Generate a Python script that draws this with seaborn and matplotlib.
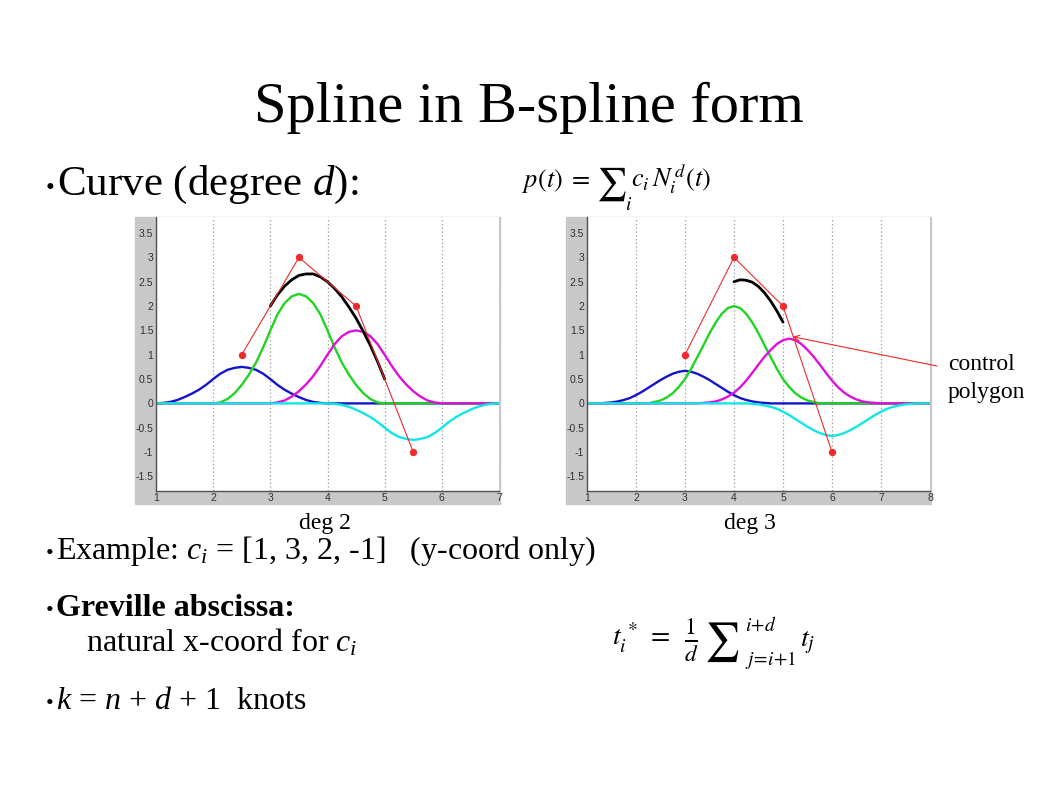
import numpy as np
import pandas as pd
import matplotlib.pyplot as plt
import matplotlib.patches as mpatches
from matplotlib.ticker import FuncFormatter
import seaborn as sns

# Datos (paso 0.125 en t)
x_deg2 = [1.0, 1.125, 1.25, 1.375, 1.5, 1.625, 1.75, 1.875, 2.0, 2.125, 2.25, 2.375, 2.5,
          2.625, 2.75, 2.875, 3.0, 3.125, 3.25, 3.375, 3.5, 3.625, 3.75, 3.875, 4.0,
          4.125, 4.25, 4.375, 4.5, 4.625, 4.75, 4.875, 5.0, 5.125, 5.25, 5.375, 5.5,
          5.625, 5.75, 5.875, 6.0, 6.125, 6.25, 6.375, 6.5, 6.625, 6.75, 6.875, 7.0]
blue_deg2 = [0, .01, .03, .07, .13, .2, .28, .38, .5, .61, .69, .73, .75,
             .73, .69, .61, .5, .38, .28, .2, .13, .07, .03, .01, 0,
             0, 0, 0, 0, 0, 0, 0, 0, 0, 0, 0, 0,
             0, 0, 0, 0, 0, 0, 0, 0, 0, 0, 0, 0]
green_deg2 = [0, 0, 0, 0, 0, 0, 0, 0, 0, .02, .09, .21, .38,
              .59, .84, 1.15, 1.5, 1.83, 2.06, 2.2, 2.25, 2.2, 2.06, 1.83, 1.5,
              1.15, .84, .59, .38, .21, .09, .02, 0, 0, 0, 0, 0,
              0, 0, 0, 0, 0, 0, 0, 0, 0, 0, 0, 0]
magenta_deg2 = [0, 0, 0, 0, 0, 0, 0, 0, 0, 0, 0, 0, 0,
                0, 0, 0, 0, .02, .06, .14, .25, .39, .56, .77, 1.0,
                1.22, 1.38, 1.47, 1.5, 1.47, 1.38, 1.22, 1.0, .77, .56, .39, .25,
                .14, .06, .02, 0, 0, 0, 0, 0, 0, 0, 0, 0]
cyan_deg2 = [0, 0, 0, 0, 0, 0, 0, 0, 0, 0, 0, 0, 0,
             0, 0, 0, 0, 0, 0, 0, 0, 0, 0, 0, 0,
             -.01, -.03, -.07, -.13, -.2, -.28, -.38, -.5, -.61, -.69, -.73, -.75,
             -.73, -.69, -.61, -.5, -.38, -.28, -.2, -.13, -.07, -.03, -.01, 0]
x_black2 = [3.0, 3.125, 3.25, 3.375, 3.5, 3.625, 3.75, 3.875, 4.0,
            4.125, 4.25, 4.375, 4.5, 4.625, 4.75, 4.875, 5.0]
black_deg2 = [2.0, 2.23, 2.41, 2.54, 2.63, 2.66, 2.66, 2.6, 2.5,
              2.36, 2.19, 1.98, 1.75, 1.48, 1.19, .86, .5]

x_deg3 = [1.0, 1.125, 1.25, 1.375, 1.5, 1.625, 1.75, 1.875, 2.0, 2.125, 2.25, 2.375, 2.5,
          2.625, 2.75, 2.875, 3.0, 3.125, 3.25, 3.375, 3.5, 3.625, 3.75, 3.875, 4.0,
          4.125, 4.25, 4.375, 4.5, 4.625, 4.75, 4.875, 5.0, 5.125, 5.25, 5.375, 5.5,
          5.625, 5.75, 5.875, 6.0, 6.125, 6.25, 6.375, 6.5, 6.625, 6.75, 6.875, 7.0,
          7.125, 7.25, 7.375, 7.5, 7.625, 7.75, 7.875, 8.0]
blue_deg3 = [0, 0, 0, .01, .02, .04, .07, .11, .17, .24, .32, .4, .48,
             .55, .61, .65, .67, .65, .61, .55, .48, .4, .32, .24, .17,
             .11, .07, .04, .02, .01, 0, 0, 0, 0, 0, 0, 0,
             0, 0, 0, 0, 0, 0, 0, 0, 0, 0, 0, 0,
             0, 0, 0, 0, 0, 0, 0, 0]
green_deg3 = [0, 0, 0, 0, 0, 0, 0, 0, 0, 0, 0, .03, .06,
              .12, .21, .34, .5, .71, .95, 1.19, 1.44, 1.66, 1.84, 1.96, 2.0,
              1.96, 1.84, 1.66, 1.44, 1.19, .95, .71, .5, .34, .21, .12, .06,
              .03, 0, 0, 0, 0, 0, 0, 0, 0, 0, 0, 0,
              0, 0, 0, 0, 0, 0, 0, 0]
magenta_deg3 = [0, 0, 0, 0, 0, 0, 0, 0, 0, 0, 0, 0, 0,
                0, 0, 0, 0, 0, 0, .01, .02, .04, .08, .14, .22,
                .33, .47, .63, .8, .96, 1.1, 1.22, 1.3, 1.33, 1.3, 1.22, 1.1,
                .96, .8, .63, .47, .33, .22, .14, .08, .04, .02, .01, 0,
                0, 0, 0, 0, 0, 0, 0, 0]
cyan_deg3 = [0, 0, 0, 0, 0, 0, 0, 0, 0, 0, 0, 0, 0,
             0, 0, 0, 0, 0, 0, 0, 0, 0, 0, 0, 0,
             0, 0, -.01, -.02, -.04, -.07, -.11, -.17, -.24, -.32, -.4, -.48,
             -.55, -.61, -.65, -.67, -.65, -.61, -.55, -.48, -.4, -.32, -.24, -.17,
             -.11, -.07, -.04, -.02, -.01, 0, 0, 0]
x_black3 = [4.0, 4.125, 4.25, 4.375, 4.5, 4.625, 4.75, 4.875, 5.0]
black_deg3 = [2.5, 2.54, 2.53, 2.49, 2.4, 2.27, 2.1, 1.9, 1.67]

coef = [1, 3, 2, -1]
greville_deg2 = [2.5, 3.5, 4.5, 5.5]
greville_deg3 = [3, 4, 5, 6]

y_ticks = [-1.5, -1, -0.5, 0, 0.5, 1, 1.5, 2, 2.5, 3, 3.5]

CURVAS = ['blue', 'green', 'magenta', 'cyan']
COLORES = {'blue': '#1414cc', 'green': '#22d422', 'magenta': '#dd10dd', 'cyan': '#10e6e6'}
ROJO = '#ee2a2a'
GRIS = '#c8c8c8'

W, H = 1058, 793

sns.set_style('white')
plt.rcParams['font.family'] = ['Liberation Serif', 'DejaVu Serif']
plt.rcParams['text.color'] = 'black'
plt.rcParams['mathtext.fontset'] = 'custom'
plt.rcParams['mathtext.rm'] = 'Liberation Serif'
plt.rcParams['mathtext.it'] = 'Liberation Serif:italic'
plt.rcParams['mathtext.bf'] = 'Liberation Serif:bold'
plt.rcParams['axes.unicode_minus'] = False


def fx(px):
	return px / W


def fy(py):
	return 1 - py / H


fig = plt.figure(figsize=(W / 100, H / 100), dpi=100, facecolor='white')


def graficar(rect_gris, rect_ax, x, series, xb, yb, greville, xmax):
	# fondo gris estilo matlab
	gx0, gy0, gx1, gy1 = rect_gris
	fig.patches.append(mpatches.Rectangle((fx(gx0), fy(gy1)), fx(gx1 - gx0), (gy1 - gy0) / H,
	                                      transform=fig.transFigure, color=GRIS, zorder=-1))
	ax0, ay0, ax1, ay1 = rect_ax
	ax = fig.add_axes([fx(ax0), fy(ay1), fx(ax1 - ax0), (ay1 - ay0) / H])
	ax.set_facecolor('white')
	df = pd.DataFrame({
		't': x * len(series),
		'valor': [v for s in series for v in s],
		'curva': [c for c, s in zip(CURVAS, series) for _ in s],
	})
	sns.lineplot(data=df, x='t', y='valor', hue='curva', hue_order=CURVAS, palette=COLORES,
	             estimator=None, sort=False, legend=False, lw=1.7, ax=ax)
	sns.lineplot(x=xb, y=yb, color='black', lw=2.0, estimator=None, sort=False, ax=ax)
	sns.lineplot(x=greville, y=coef, color=ROJO, lw=0.8, marker='o', markersize=4.5,
	             markeredgecolor=ROJO, estimator=None, sort=False, ax=ax)
	ax.set_xlim(1, xmax)
	ax.set_ylim(-1.8, 3.83)
	ax.set_xticks(range(1, xmax + 1))
	ax.set_yticks(y_ticks)
	ax.yaxis.set_major_formatter(FuncFormatter(lambda v, p: '%g' % v))
	ax.set_xlabel('')
	ax.set_ylabel('')
	for s in ['top', 'right']:
		ax.spines[s].set_visible(False)
	for s in ['left', 'bottom']:
		ax.spines[s].set_color('#505050')
		ax.spines[s].set_linewidth(1.0)
	ax.tick_params(direction='in', length=3, width=0.8, color='#505050', labelsize=7.5,
	               labelcolor='#303030', labelfontfamily='Liberation Sans')
	ax.tick_params(axis='x', pad=1.5)
	ax.tick_params(axis='y', pad=2)
	ax.grid(axis='x', linestyle=(0, (1, 2)), color='#9a9a9a', lw=0.9)
	ax.set_axisbelow(True)
	return ax


ax1 = graficar((135, 217, 500, 504), (156, 217, 499, 491), x_deg2,
               [blue_deg2, green_deg2, magenta_deg2, cyan_deg2], x_black2, black_deg2, greville_deg2, 7)
ax2 = graficar((566, 217, 931, 504), (587, 217, 930, 491), x_deg3,
               [blue_deg3, green_deg3, magenta_deg3, cyan_deg3], x_black3, black_deg3, greville_deg3, 8)

# flecha "control polygon"
ax2.annotate('', xy=(5.2, 1.37), xycoords='data', xytext=(937, H - 366), textcoords='figure pixels',
             arrowprops=dict(arrowstyle='->', color=ROJO, lw=0.8, shrinkA=0, shrinkB=0),
             annotation_clip=False)

# Textos
fig.text(fx(529), fy(122), 'Spline in B-spline form', ha='center', va='baseline', fontsize=42)


def bullet(py, size=16):
	fig.text(fx(46), fy(py), '\u2022', ha='left', va='baseline', fontsize=size)


def txt(px, py, s, size, **kw):
	fig.text(fx(px), fy(py), s, ha='left', va='baseline', fontsize=size, **kw)


bullet(195, 18)
txt(57, 195, 'Curve (degree $d$):', 31)
bullet(559)
txt(56, 559, 'Example: $c_i$ = [1, 3, 2, -1]   (y-coord only)', 23)
bullet(616)
txt(56, 616, 'Greville abscissa:', 23, fontweight='bold')
txt(86, 652, 'natural x-coord for $c_i$', 23)
bullet(709)
txt(56, 709, '$k$ = $n$ + $d$ + 1  knots', 23)

fig.text(fx(325), fy(529), 'deg 2', ha='center', va='baseline', fontsize=17)
fig.text(fx(750), fy(529), 'deg 3', ha='center', va='baseline', fontsize=17)
txt(948, 370, 'control', 17)
txt(948, 398, 'polygon', 17)

# formula p(t)
MF = dict(math_fontfamily='stix')
txt(522, 187, r'$p(t)\;=$', 19, **MF)
txt(596, 193, r'$\sum$', 24, **MF)
txt(625, 210, r'$i$', 14, **MF)
txt(631, 187, r'$c_i\,N_i^{\,d}(t)$', 19, **MF)

# formula Greville
txt(612, 646, r'$t_i^{\,*}\;=$', 20, **MF)
fig.text(fx(691), fy(640), r'$\frac{1}{d}$', ha='center', va='center', fontsize=24, **MF)
txt(704, 652, r'$\sum$', 28, **MF)
txt(745, 631, r'$i\!+\!d$', 14, **MF)
txt(745, 665, r'$j\!=\!i\!+\!1$', 14, **MF)
txt(800, 646, r'$t_j$', 20, **MF)

fig.savefig('out.png', dpi=100, facecolor='white')
